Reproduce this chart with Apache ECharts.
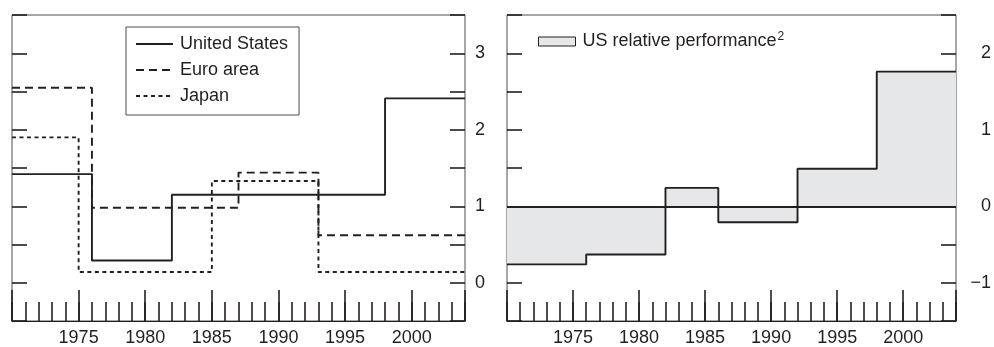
<!DOCTYPE html>
<html>
<head>
<meta charset="utf-8">
<script src="https://cdn.jsdelivr.net/npm/echarts@6/dist/echarts.min.js"></script>
<style>
  html, body { margin: 0; padding: 0; background: #fff; }
  #chart { width: 994px; height: 347px; }
</style>
</head>
<body>
<div id="chart"></div>
<script>
// Period boundaries (years) and the average rate over each period
const usBreaks = [1970, 1976, 1982, 1998, 2004];
const usValues = [1.42, 0.29, 1.15, 2.41];

const euroBreaks = [1970, 1976, 1987, 1993, 2004];
const euroValues = [2.55, 0.98, 1.44, 0.62];

const japanBreaks = [1970, 1975, 1985, 1993, 2004];
const japanValues = [1.90, 0.14, 1.33, 0.14];

const relBreaks = [1970, 1976, 1982, 1986, 1992, 1998, 2004];
const relValues = [-0.76, -0.63, 0.24, -0.21, 0.49, 1.76];

const leftTicks = [0, 1, 2, 3];
const rightTicks = [-1, 0, 1, 2];

const INK = '#231f20';
const FONT = "'Liberation Sans', Arial, Helvetica, sans-serif";

// Turn period boundaries + values into points for a step line
function stepPoints(breaks, values) {
  const pts = breaks.slice(0, -1).map((b, i) => [b, values[i]]);
  pts.push([breaks[breaks.length - 1], values[values.length - 1]]);
  return pts;
}

function xAxes(gridIndex) {
  return [
    {
      type: 'value', gridIndex, min: 1970, max: 2004, interval: 5, position: 'bottom',
      axisLine: { show: true, onZero: false, lineStyle: { color: INK, width: 1 } },
      axisTick: { show: true, inside: true, length: 31, lineStyle: { color: INK, width: 1.6 } },
      axisLabel: {
        color: INK, fontFamily: FONT, fontSize: 18, margin: 8,
        formatter: v => (v > 1970 && v < 2004) ? String(v) : ''
      },
      splitLine: { show: false }
    },
    {
      type: 'value', gridIndex, min: 1970, max: 2004, interval: 1, position: 'bottom',
      axisLine: { show: false, onZero: false },
      axisTick: { show: true, inside: true, length: 19, lineStyle: { color: INK, width: 1.6 } },
      axisLabel: { show: false },
      splitLine: { show: false }
    }
  ];
}

function yAxes(gridIndex, min, max, labels, labelMargin, labelAlign) {
  const base = {
    type: 'value', gridIndex, min, max, interval: 0.5,
    axisLine: { show: false, onZero: false },
    axisTick: { show: true, inside: true, length: 15, lineStyle: { color: INK, width: 1.6 } },
    splitLine: { show: false }
  };
  return [
    Object.assign({}, base, { position: 'left', axisLabel: { show: false } }),
    Object.assign({}, base, {
      position: 'right',
      axisLabel: {
        show: true, color: INK, fontFamily: FONT, fontSize: 18,
        margin: labelMargin, align: labelAlign,
        formatter: v => labels.indexOf(v) >= 0 ? String(v).replace('-', '\u2212') : ''
      }
    })
  ];
}

const chart = echarts.init(document.getElementById('chart'), null, { renderer: 'canvas' });

const lineBase = { type: 'line', symbol: 'none', step: 'end', silent: true, animation: false };

chart.setOption({
  backgroundColor: '#fff',
  animation: false,
  textStyle: { fontFamily: FONT },
  grid: [
    { left: 12, top: 15, width: 453, height: 306, show: true, borderColor: '#4d4d4f', borderWidth: 1 },
    { left: 507, top: 15, width: 453, height: 306, show: true, borderColor: '#4d4d4f', borderWidth: 1 }
  ],
  xAxis: xAxes(0).concat(xAxes(1)),
  yAxis: yAxes(0, -0.5, 3.5, leftTicks, 10, 'left').concat(yAxes(1, -1.5, 2.5, rightTicks, 35, 'right')),
  legend: [
    {
      data: ['United States', 'Euro area', 'Japan'],
      orient: 'vertical', left: 126, top: 27,
      padding: [8, 11, 10, 9], itemGap: 8, itemWidth: 37, itemHeight: 14,
      borderColor: '#4d4d4f', borderWidth: 1,
      selectedMode: false,
      itemStyle: { opacity: 0, borderWidth: 0 },
      textStyle: { color: INK, fontFamily: FONT, fontSize: 18, padding: [0, 0, 0, 2] }
    },
    {
      data: [{
        name: 'US relative performance', icon: 'rect',
        itemStyle: { color: '#e6e7e8', borderColor: INK, borderWidth: 1 }
      }],
      left: 538, top: 31, padding: 0, itemWidth: 37, itemHeight: 9,
      selectedMode: false,
      formatter: name => '{t|' + name + '}{s|2}',
      textStyle: {
        color: INK, fontFamily: FONT, fontSize: 18, padding: [0, 0, 0, 2],
        rich: {
          t: { fontSize: 18, fontFamily: FONT, color: INK },
          s: { fontSize: 12, fontFamily: FONT, color: INK, padding: [0, 0, 9, 1] }
        }
      }
    }
  ],
  series: [
    Object.assign({}, lineBase, {
      name: 'United States', xAxisIndex: 0, yAxisIndex: 0,
      data: stepPoints(usBreaks, usValues),
      lineStyle: { color: INK, width: 1.9, type: 'solid' },
      itemStyle: { color: INK }
    }),
    Object.assign({}, lineBase, {
      name: 'Euro area', xAxisIndex: 0, yAxisIndex: 0,
      data: stepPoints(euroBreaks, euroValues),
      lineStyle: { color: INK, width: 1.9, type: [8, 5] },
      itemStyle: { color: INK }
    }),
    Object.assign({}, lineBase, {
      name: 'Japan', xAxisIndex: 0, yAxisIndex: 0,
      data: stepPoints(japanBreaks, japanValues),
      lineStyle: { color: INK, width: 1.9, type: [4, 3.5] },
      itemStyle: { color: INK }
    }),
    Object.assign({}, lineBase, {
      name: 'US relative performance', xAxisIndex: 2, yAxisIndex: 2,
      data: stepPoints(relBreaks, relValues),
      lineStyle: { color: INK, width: 1.9 },
      itemStyle: { color: '#e6e7e8' },
      areaStyle: { color: '#e6e7e8', opacity: 1, origin: 0 },
      markLine: {
        silent: true, symbol: 'none', animation: false,
        label: { show: false },
        lineStyle: { color: INK, width: 1.9, type: 'solid' },
        data: [{ yAxis: 0 }]
      }
    })
  ]
});
</script>
</body>
</html>
